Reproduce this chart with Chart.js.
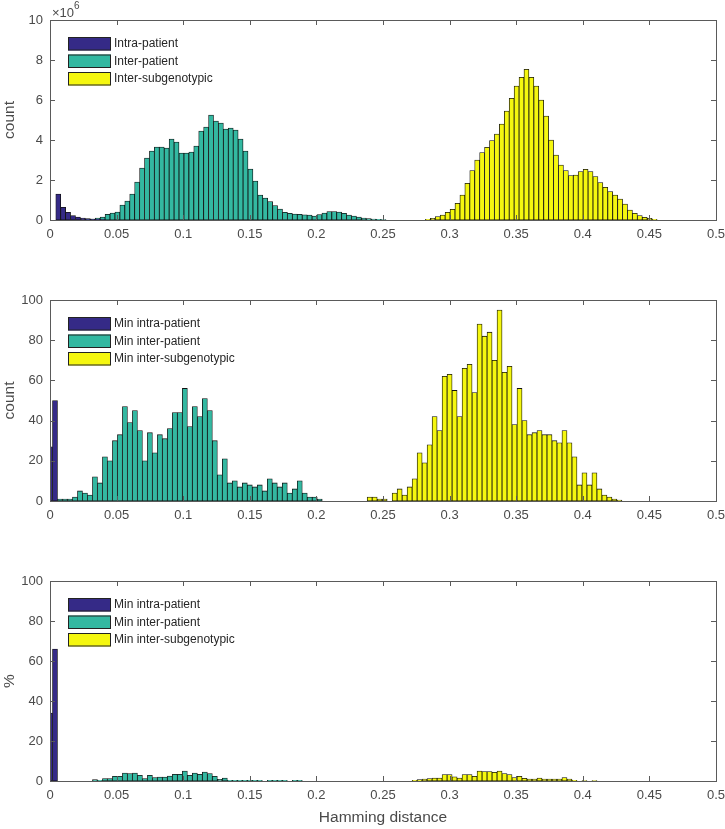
<!DOCTYPE html>
<html>
<head>
<meta charset="utf-8">
<script src="https://cdn.jsdelivr.net/npm/chart.js@4.4.1/dist/chart.umd.min.js"></script>
<style>
  body { margin: 0; background: #fff; }
  canvas { position: absolute; left: 0; }
</style>
</head>
<body>
<canvas id="allPairs" width="725" height="245" style="top:0px"></canvas>
<canvas id="minCounts" width="725" height="246" style="top:280px"></canvas>
<canvas id="minPercent" width="725" height="268" style="top:561px"></canvas>
<script>
// histogram bin grids: centre of bin k = offset + width * k
const allBins = { offset: 0.0062, width: 0.0037 };
const minBins = { offset: 0, width: 0.00375 };

// top panel: all pairwise distances, counts in units of 10^6
const intraStart = 0;
const intraCounts = [1.3, 0.63, 0.38, 0.22, 0.15, 0.1, 0.07, 0.05, 0.03, 0.02];
const interStart = 6;
const interCounts = [0.03, 0.05, 0.1, 0.15, 0.28, 0.35, 0.4, 0.75, 0.95, 1.3, 1.9, 2.6, 3.1, 3.45,
  3.65, 3.65, 3.6, 4.05, 3.9, 3.35, 3.35, 3.4, 3.7, 4.45, 4.65, 5.25, 4.95, 4.85, 4.55, 4.6,
  4.5, 4.05, 3.45, 2.55, 1.95, 1.25, 1.1, 0.92, 0.72, 0.55, 0.38, 0.33, 0.3, 0.28, 0.26, 0.25,
  0.2, 0.27, 0.35, 0.42, 0.42, 0.4, 0.33, 0.25, 0.2, 0.15, 0.1, 0.07, 0.05, 0.03, 0.02];
const subStart = 75;
const subCounts = [0.03, 0.08, 0.17, 0.25, 0.38, 0.53, 0.83, 1.25, 1.83, 2.47, 3.0, 3.37, 3.63,
  3.97, 4.3, 4.8, 5.45, 6.08, 6.7, 7.13, 7.53, 7.13, 6.7, 6.0, 5.2, 4.0, 3.25, 2.75, 2.47, 2.22,
  2.25, 2.42, 2.53, 2.42, 2.17, 1.87, 1.63, 1.42, 1.25, 1.05, 0.8, 0.5, 0.33, 0.22, 0.13, 0.08, 0.03];

// middle panel: minimum distances, counts
const minIntraStart = 0;
const minIntraCounts = [27, 50];
const minInterStart = 2;
const minInterCounts = [1, 1, 1, 2, 5, 4, 3, 12, 9, 22, 20, 30, 33, 47, 39, 45, 35, 20, 34, 24,
  33, 31, 36, 44, 44, 56, 37, 47, 42, 51, 45, 30, 13, 21, 9, 10, 7, 9, 8, 7, 8, 5, 11, 9, 7, 9,
  4, 6, 10, 4, 2, 2, 1];
const minSubStart = 64;
const minSubCounts = [2, 2, 1, 1, null, 4, 6, 3, 7, 11, 24, 19, 28, 42, 35, 62, 63, 55, 42, 66,
  68, 54, 88, 82, 84, 70, 95, 64, 67, 38, 56, 40, 33, 34, 35, 33, 33, 30, 29, 35, 29, 22, 8, 14,
  8, 14, 6, 3, 2, 1, 0.5];

// bottom panel: minimum distances, percent
const pctIntraStart = 0;
const pctIntra = [34, 66];
const pctInterStart = 9;
const pctInter = [0.7, 0.3, 1.2, 1.2, 2.3, 2.3, 4, 3.7, 4, 2.8, 1.2, 2.8, 1.7, 2, 2, 2.5, 3.3,
  3.3, 5, 2.8, 4, 3.3, 4.5, 3.7, 2.3, 0.8, 1.5, 0.3, 0.3, 0.3, 0.3, 0.3, 0.3, 0.3, null, 0.3, 0.3,
  0.3, 0.3, null, 0.3, 0.3];
const pctSubStart = 73;
const pctSub = [0.3, 0.7, 1, 1.2, 1.5, 1.5, 3.2, 3.2, 2.1, 1.5, 3.2, 3.2, 2.3, 5, 4.7, 4.7, 4.3,
  5, 3.7, 3.2, 1.7, 2.3, 1.3, 1, 1, 1.5, 1, 1, 1, 1, 1.7, 1, 0.3, null, 0.2, null, 0.2];

const blue = '#352a87';
const teal = '#33b8a1';
const yellow = '#f5f70f';
const edge = '#111111';
const textColor = '#4a4a4a';
const lineColor = '#5a5a5a';

Chart.defaults.font.family = '"Liberation Sans", Arial, sans-serif';

function toPoints(grid, start, values) {
  return values.map((v, i) => ({ x: grid.offset + grid.width * (start + i), y: v }));
}

// box, inward ticks on all four sides, legend and the x10^6 factor
const matlabFrame = {
  id: 'matlabFrame',
  afterDatasetsDraw(chart, args, opts) {
    const { ctx, chartArea: a, scales: { x, y } } = chart;
    ctx.save();
    ctx.strokeStyle = lineColor;
    ctx.lineWidth = 1;
    ctx.beginPath();
    x.ticks.forEach(t => {
      const px = Math.round(x.getPixelForValue(t.value)) + 0.5;
      ctx.moveTo(px, a.bottom); ctx.lineTo(px, a.bottom - 5);
      ctx.moveTo(px, a.top); ctx.lineTo(px, a.top + 5);
    });
    y.ticks.forEach(t => {
      const py = Math.round(y.getPixelForValue(t.value)) + 0.5;
      ctx.moveTo(a.left, py); ctx.lineTo(a.left + 5, py);
      ctx.moveTo(a.right, py); ctx.lineTo(a.right - 5, py);
    });
    ctx.stroke();
    ctx.strokeRect(Math.round(a.left) + 0.5, Math.round(a.top) + 0.5,
      Math.round(a.right - a.left), Math.round(a.bottom - a.top));

    ctx.font = '12px "Liberation Sans", Arial, sans-serif';
    ctx.textBaseline = 'middle';
    chart.data.datasets.forEach((ds, i) => {
      const top = a.top + 17 + i * 17.5;
      ctx.fillStyle = ds.backgroundColor;
      ctx.fillRect(a.left + 18, top, 43, 13.5);
      ctx.strokeStyle = '#222';
      ctx.strokeRect(a.left + 18.5, top + 0.5, 42, 12.5);
      ctx.fillStyle = '#262626';
      ctx.fillText(ds.label, a.left + 64, top + 7);
    });

    if (opts.exponent) {
      ctx.fillStyle = textColor;
      ctx.textBaseline = 'alphabetic';
      ctx.font = '13px "Liberation Sans", Arial, sans-serif';
      ctx.fillText('\u00d710', a.left + 2, a.top - 3);
      const w = ctx.measureText('\u00d710').width;
      ctx.font = '10px "Liberation Sans", Arial, sans-serif';
      ctx.fillText(opts.exponent, a.left + 2 + w, a.top - 11);
    }
    ctx.restore();
  }
};

function makePanel(id, p) {
  return new Chart(document.getElementById(id), {
    type: 'bar',
    data: {
      datasets: p.series.map(s => ({
        label: s.label,
        data: toPoints(p.grid, s.start, s.values),
        backgroundColor: s.color,
        borderColor: edge,
        borderWidth: 0.8,
        borderSkipped: false,
        grouped: false,
        barPercentage: 1,
        categoryPercentage: 1,
        clip: 0
      }))
    },
    options: {
      responsive: false,
      animation: false,
      layout: { padding: { top: 20, right: 9, left: 0, bottom: 0 } },
      plugins: {
        legend: { display: false },
        tooltip: { enabled: false },
        matlabFrame: { exponent: p.exponent }
      },
      scales: {
        x: {
          type: 'linear',
          offset: false,
          min: 0,
          max: 0.5,
          ticks: {
            stepSize: 0.05, maxRotation: 0, autoSkip: false, color: textColor, font: { size: 13 }, padding: 7,
            callback: v => String(Number(v.toFixed(2)))
          },
          grid: { display: false, drawTicks: false },
          border: { display: false },
          title: {
            display: !!p.xTitle,
            text: p.xTitle || '',
            color: textColor,
            font: { size: 15.5 },
            padding: { top: 0, bottom: 2 }
          },
          afterFit(scale) {
            scale.height = p.xHeight;
            scale.paddingLeft = 0;
            scale.paddingRight = 0;
          }
        },
        y: {
          min: 0,
          max: p.yMax,
          ticks: { stepSize: p.yStep, color: textColor, font: { size: 13 }, padding: 7 },
          grid: { display: false, drawTicks: false },
          border: { display: false },
          title: { display: true, text: p.yTitle, color: textColor, font: { size: 15.5 }, padding: 0 },
          afterFit(scale) { scale.width = 50; }
        }
      }
    },
    plugins: [matlabFrame]
  });
}

makePanel('allPairs', {
  grid: allBins, yMax: 10, yStep: 2, yTitle: 'count', exponent: '6', xHeight: 25,
  series: [
    { label: 'Intra-patient', color: blue, start: intraStart, values: intraCounts },
    { label: 'Inter-patient', color: teal, start: interStart, values: interCounts },
    { label: 'Inter-subgenotypic', color: yellow, start: subStart, values: subCounts }
  ]
});

makePanel('minCounts', {
  grid: minBins, yMax: 100, yStep: 20, yTitle: 'count', xHeight: 25,
  series: [
    { label: 'Min intra-patient', color: blue, start: minIntraStart, values: minIntraCounts },
    { label: 'Min inter-patient', color: teal, start: minInterStart, values: minInterCounts },
    { label: 'Min inter-subgenotypic', color: yellow, start: minSubStart, values: minSubCounts }
  ]
});

makePanel('minPercent', {
  grid: minBins, yMax: 100, yStep: 20, yTitle: '%', xTitle: 'Hamming distance', xHeight: 48,
  series: [
    { label: 'Min intra-patient', color: blue, start: pctIntraStart, values: pctIntra },
    { label: 'Min inter-patient', color: teal, start: pctInterStart, values: pctInter },
    { label: 'Min inter-subgenotypic', color: yellow, start: pctSubStart, values: pctSub }
  ]
});
</script>
</body>
</html>
